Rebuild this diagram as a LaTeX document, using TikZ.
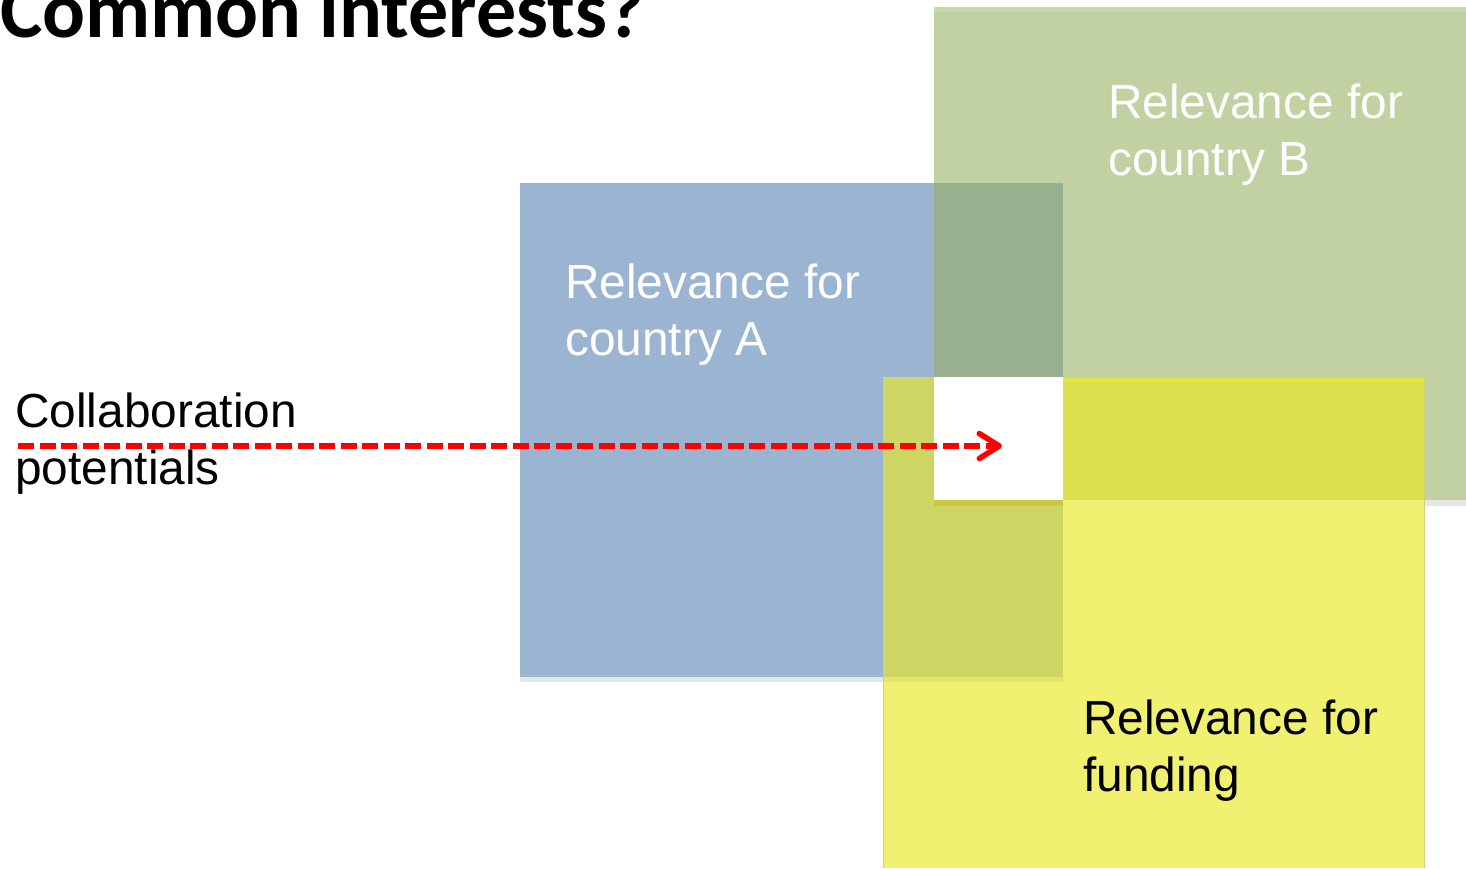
\documentclass[tikz,border=0pt]{standalone}
\usepackage{fontspec}
\setmainfont{Liberation Sans}
\newfontfamily\titlefont{Carlito}
\usetikzlibrary{arrows.meta}
\definecolor{cgreen}{HTML}{C2D1A1}
\definecolor{cgreentop}{HTML}{C9D8A9}
\definecolor{cblue}{HTML}{9BB4D2}
\definecolor{cbluegreen}{HTML}{98B08F}
\definecolor{cyellow}{HTML}{F0F071}
\definecolor{cyellowblue}{HTML}{CDD563}
\definecolor{cyellowgreen}{HTML}{DCE04C}
\definecolor{cshadow}{HTML}{E6E6E6}
\definecolor{cband}{HTML}{CBC83F}
\definecolor{cyblueshadow}{HTML}{E3E66B}
\definecolor{cyedge}{HTML}{D2D27A}
\definecolor{carrow}{HTML}{FF0000}
\tikzset{
  region/.style={draw=none},
  lbl/.style={anchor=base west, inner sep=0pt, font=\fontsize{47.8}{57}\selectfont},
  wlbl/.style={lbl, text=white},
  blbl/.style={lbl, text=black},
  conn/.style={draw=carrow, line width=5.5pt, dash pattern=on 16pt off 5.5pt,
    -{Straight Barb[length=20pt,width=25pt,line cap=round,line join=round]}}
}
\begin{document}
\begin{tikzpicture}[x=1pt,y=-1pt]
\useasboundingbox (0,0) rectangle (1466,868);
\fill[white] (0,0) rectangle (1466,868);
% country B
\fill[cgreen] (934,7) rectangle (1466,500);
\fill[cgreentop] (934,7) rectangle (1466,12);
\fill[cshadow] (934,500) rectangle (1466,506);
% country A
\fill[cblue] (520,183) rectangle (1063,677);
\fill[cshadow] (520,677) rectangle (1063,682);
\fill[cbluegreen] (934,183) rectangle (1063,377);
% funding
\fill[cyellow] (883,377) rectangle (1424,868);
\fill[cyellowblue] (883,377) rectangle (1063,677);
\fill[cyblueshadow] (883,677) rectangle (1063,682);
\fill[cyellowgreen] (1063,377) rectangle (1424,500);
\fill[cyellowgreen!80!yellow] (1063,377) rectangle (1424,382);
\fill[white] (934,377) rectangle (1063,500);
\fill[cband] (934,500) rectangle (1063,506);
\draw[cyedge, line width=1pt] (883,868) -- (883,377) -- (934,377);
\draw[cyedge, line width=1pt] (1063,377) -- (1424,377) -- (1424,868);
% title
\node[anchor=base west, inner sep=0pt, font=\titlefont\bfseries\fontsize{80}{90}\selectfont] (title) at (0,37) {Common interests?};
% labels
\node[wlbl] (a1) at (565,298) {Relevance for};
\node[wlbl] (a2) at (565,355) {country A};
\node[wlbl] (b1) at (1108,118) {Relevance for};
\node[wlbl] (b2) at (1108,175) {country B};
\node[blbl] (f1) at (1083,734) {Relevance for};
\node[blbl] (f2) at (1083,791) {funding};
\node[blbl] (c1) at (15,427) {Collaboration};
\node[blbl] (c2) at (15,484) {potentials};
% arrow
\coordinate (s) at (18,446);
\coordinate (e) at (1002,446);
\draw[conn] (s) -- (e);
\end{tikzpicture}
\end{document}
